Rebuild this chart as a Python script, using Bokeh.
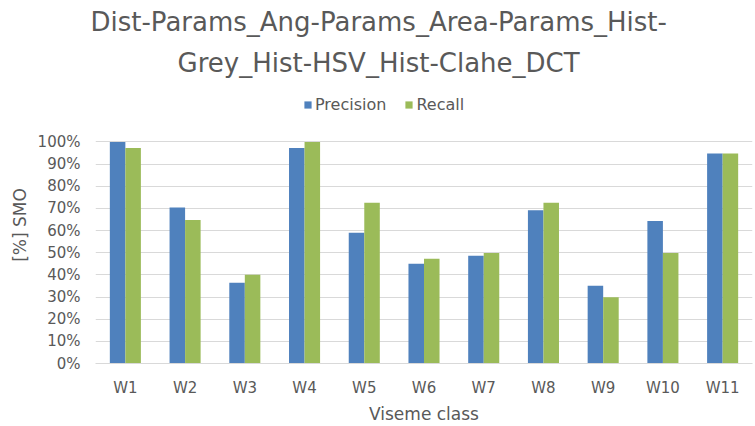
from bokeh.plotting import figure
from bokeh.models import (ColumnDataSource, FactorRange, Range1d, FixedTicker,
                          NumeralTickFormatter, Title, Legend, LegendItem)
from bokeh.transform import dodge
from bokeh.embed import file_html
from bokeh.resources import INLINE

categories = ["W1", "W2", "W3", "W4", "W5", "W6", "W7", "W8", "W9", "W10", "W11"]
precision = [1.00, 0.704, 0.364, 0.973, 0.590, 0.450, 0.486, 0.691, 0.351, 0.643, 0.948]
recall = [0.973, 0.648, 0.400, 1.00, 0.725, 0.473, 0.499, 0.725, 0.299, 0.499, 0.948]
y_ticks = [0.0, 0.1, 0.2, 0.3, 0.4, 0.5, 0.6, 0.7, 0.8, 0.9, 1.0]
title_lines = ["Dist-Params_Ang-Params_Area-Params_Hist-", "Grey_Hist-HSV_Hist-Clahe_DCT"]
series_names = ["Precision", "Recall"]

BLUE = "#4F81BD"
GREEN = "#9BBB59"
TXT = "#595959"
FONT = "DejaVu Sans"

src = ColumnDataSource(dict(cat=categories, precision=precision, recall=recall))

W, H = 755, 426
p = figure(width=W, height=H, x_range=FactorRange(*categories, range_padding=0),
           y_range=Range1d(0, 1.25), output_backend="svg", toolbar_location=None,
           min_border_left=95, min_border_right=3, min_border_top=86, min_border_bottom=61)
p.outline_line_color = None
p.background_fill_color = "white"
p.border_fill_color = "white"

bw = 0.26
r1 = p.vbar(x=dodge("cat", -bw / 2, range=p.x_range), top="precision", width=bw, source=src,
            fill_color=BLUE, line_color=None)
r2 = p.vbar(x=dodge("cat", bw / 2, range=p.x_range), top="recall", width=bw, source=src,
            fill_color=GREEN, line_color=None)

# axes
p.yaxis.ticker = FixedTicker(ticks=y_ticks)
p.yaxis.formatter = NumeralTickFormatter(format="0%")
p.yaxis.axis_line_color = None
p.yaxis.major_tick_line_color = None
p.yaxis.minor_tick_line_color = None
p.yaxis.major_tick_out = 0
p.yaxis.major_label_text_font = FONT
p.yaxis.major_label_text_font_size = "15px"
p.yaxis.major_label_text_color = TXT
p.yaxis.major_label_standoff = 15
p.yaxis.axis_label = "[%] SMO"
p.yaxis.axis_label_text_font = FONT
p.yaxis.axis_label_text_font_size = "17px"
p.yaxis.axis_label_text_font_style = "normal"
p.yaxis.axis_label_text_color = TXT
p.yaxis.axis_label_standoff = 5

p.xaxis.axis_line_color = "#D9D9D9"
p.xaxis.major_tick_line_color = None
p.xaxis.minor_tick_line_color = None
p.xaxis.major_tick_out = 0
p.xaxis.major_label_text_font = FONT
p.xaxis.major_label_text_font_size = "15px"
p.xaxis.major_label_text_color = TXT
p.xaxis.major_label_standoff = 15
p.xaxis.axis_label = "Viseme class"
p.xaxis.axis_label_text_font = FONT
p.xaxis.axis_label_text_font_size = "17px"
p.xaxis.axis_label_text_font_style = "normal"
p.xaxis.axis_label_text_color = TXT
p.xaxis.axis_label_standoff = 4

p.xgrid.grid_line_color = None
p.ygrid.grid_line_color = "#D9D9D9"
p.ygrid.grid_line_width = 1

legend = Legend(items=[LegendItem(label=series_names[0], renderers=[r1]),
                       LegendItem(label=series_names[1], renderers=[r2])],
                orientation="horizontal", location=(208, 249),
                label_text_font=FONT, label_text_font_size="16px", label_text_color=TXT,
                label_height=18, glyph_width=9, glyph_height=9, label_standoff=3, spacing=18,
                padding=0, margin=0, border_line_color=None, background_fill_alpha=0)
p.add_layout(legend, "center")

title_offsets = [-5, 82]
title_standoffs = [0, 18]
for line, off, so in reversed(list(zip(title_lines, title_offsets, title_standoffs))):
    p.add_layout(Title(text=line, align="left", offset=off, standoff=so,
                       text_font=FONT, text_font_size="26px", text_font_style="normal",
                       text_color=TXT), "above")

open("out.html", "w").write(file_html(p, INLINE))
